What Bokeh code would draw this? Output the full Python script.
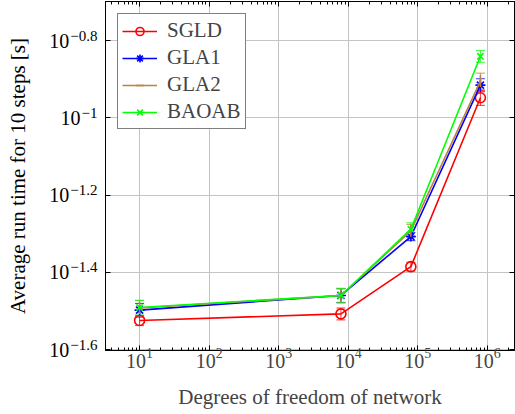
import numpy as np
from bokeh.plotting import figure
from bokeh.layouts import row
from bokeh.models import (Range1d, LogAxis, FixedTicker, LogTicker, Legend, LegendItem,
                          ColumnDataSource, Whisker, TeeHead, CustomJSTickFormatter)
from bokeh.core.properties import value
from bokeh.embed import file_html
from bokeh.resources import INLINE

# Degrees of freedom of each network and the measured run times [s]
dof = [10, 7850, 79510, 795010]
sgld = [0.0299, 0.0311, 0.0412, 0.1127]
sgld_err = [0.0009, 0.0011, 0.0011, 0.0050]
gla1 = [0.0318, 0.0347, 0.0493, 0.1215]
gla1_err = [0.0013, 0.0014, 0.0012, 0.0047]
gla2 = [0.0322, 0.0347, 0.0510, 0.1245]
gla2_err = [0.0015, 0.0015, 0.0020, 0.0060]
baoab = [0.0323, 0.0347, 0.0515, 0.1443]
baoab_err = [0.0014, 0.0015, 0.0020, 0.0050]

y_tick_exponents = ["\u22121.6", "\u22121.4", "\u22121.2", "\u22121", "\u22120.8"]
y_tick_values = [10 ** -1.6, 10 ** -1.4, 10 ** -1.2, 10 ** -1.0, 10 ** -0.8]
y_title = "Average run time for 10 steps [s]"
x_title = "Degrees of freedom of network"

FONT = "Liberation Serif"
W, H = 515, 414
TOP, BOTTOM = 1, 64
LEFT_W = 105

# x limits: data range in decades widened by 10% on each side
lo, hi = np.log10(min(dof)), np.log10(max(dof))
pad = 0.1 * (hi - lo)
x_range = Range1d(10 ** (lo - pad), 10 ** (hi + pad))
y_range = Range1d(0.025, 0.2)

p = figure(width=W - LEFT_W, height=H, x_axis_type="log", y_axis_type="log",
           x_range=x_range, y_range=y_range,
           output_backend="svg", toolbar_location=None,
           min_border_left=0, min_border_right=1, min_border_top=TOP, min_border_bottom=BOTTOM)
p.frame_align = False

p.outline_line_color = "black"
p.outline_line_width = 1
p.background_fill_color = "white"
p.border_fill_color = "white"

# grid
for g in (p.xgrid, p.ygrid):
    g.grid_line_color = "#c4c4c4"
    g.grid_line_width = 1
p.ygrid.ticker = FixedTicker(ticks=y_tick_values)

blank = CustomJSTickFormatter(code="return ''")

def style_axis(ax):
    ax.axis_line_color = "black"
    ax.major_tick_line_color = "black"
    ax.minor_tick_line_color = "black"
    ax.major_tick_in = 5
    ax.major_tick_out = 0
    ax.minor_tick_in = 3
    ax.minor_tick_out = 0

def mute_labels(ax):
    ax.formatter = blank
    ax.major_label_text_font_size = "0px"
    ax.major_label_standoff = 0

# bottom axis
xa = p.xaxis[0]
style_axis(xa)
xa.ticker = LogTicker(num_minor_ticks=10)
xa.major_label_text_font = FONT
xa.major_label_text_font_size = "20px"
xa.major_label_standoff = -3
xa.axis_label = x_title
xa.axis_label_text_font = FONT
xa.axis_label_text_font_size = "21px"
xa.axis_label_text_font_style = "normal"
xa.axis_label_standoff = 14

# left axis: ticks only, its labels sit in the side panel
ya = p.yaxis[0]
style_axis(ya)
ya.ticker = FixedTicker(ticks=y_tick_values, minor_ticks=[])
mute_labels(ya)

# mirrored axes on top and right
top = LogAxis(ticker=LogTicker(num_minor_ticks=10))
style_axis(top)
mute_labels(top)
p.add_layout(top, "above")

right = LogAxis(ticker=FixedTicker(ticks=y_tick_values, minor_ticks=[]))
style_axis(right)
mute_labels(right)
p.add_layout(right, "right")

series = [
    ("SGLD", sgld, sgld_err, "#ff0000", "circle", 10, 0),
    ("GLA1", gla1, gla1_err, "#0000ff", "asterisk", 10, 0),
    ("GLA2", gla2, gla2_err, "#bf8040", "dash", 12, np.pi / 2),
    ("BAOAB", baoab, baoab_err, "#00ff00", "x", 9, 0),
]

items = []
for name, vals, errs, color, marker, size, angle in series:
    v = np.array(vals)
    e = np.array(errs)
    src = ColumnDataSource(dict(x=dof, y=vals, upper=v + e, lower=v - e))
    wh = Whisker(base="x", upper="upper", lower="lower", source=src,
                 line_color=color, line_width=1, line_alpha=0.8,
                 upper_head=TeeHead(size=9, line_color=color, line_width=1, line_alpha=0.8),
                 lower_head=TeeHead(size=9, line_color=color, line_width=1, line_alpha=0.8))
    p.add_layout(wh)
    ln = p.line("x", "y", source=src, line_color=color, line_width=1.6)
    sc = p.scatter("x", "y", source=src, marker=marker, size=size, angle=angle,
                   line_color=color, fill_color=None, line_width=1.6)
    items.append(LegendItem(label=name, renderers=[ln, sc]))

legend = Legend(items=items, location="top_left")
legend.margin = 12
legend.padding = 4
legend.spacing = 2
legend.glyph_width = 35
legend.glyph_height = 20
legend.label_height = 22
legend.label_standoff = 10
legend.label_text_font = FONT
legend.label_text_font_size = "21px"
legend.border_line_color = "black"
legend.border_line_width = 1
legend.background_fill_alpha = 1
p.add_layout(legend)

# side panel: its frame fills the whole column, so its log range is the main range
# stretched by the main plot's top and bottom borders (same pixels per decade)
log_lo, log_hi = np.log10(y_range.start), np.log10(y_range.end)
px_per_decade = (H - TOP - BOTTOM) / (log_hi - log_lo)
side_range = Range1d(10 ** (log_lo - BOTTOM / px_per_decade), 10 ** (log_hi + TOP / px_per_decade))

side = figure(width=LEFT_W, height=H, y_axis_type="log", y_range=side_range,
              x_range=Range1d(0, LEFT_W), x_axis_location=None, y_axis_location=None,
              output_backend="svg", toolbar_location=None,
              min_border_left=0, min_border_right=0, min_border_top=0, min_border_bottom=0)
side.frame_align = False
side.outline_line_color = None
side.grid.visible = False
side.background_fill_color = "white"
side.border_fill_color = "white"

# y tick labels: 10 with a raised exponent, right-aligned next to the axis
char_w = {"\u2212": 0.564, ".": 0.25}
exp_size = 15
label_right = LEFT_W - 8
base_x = [label_right - 1 - sum(char_w.get(c, 0.5) for c in e) * exp_size for e in y_tick_exponents]
side.text(x=[label_right] * len(y_tick_values), y=y_tick_values, text=y_tick_exponents,
          text_align="right", text_baseline="bottom", text_font=value(FONT),
          text_font_size=f"{exp_size}px", text_color="black")
side.text(x=base_x, y=y_tick_values, text=["10"] * len(y_tick_values),
          text_align="right", text_baseline="middle", text_font=value(FONT),
          text_font_size="20px", text_color="black")
y_mid = 10 ** ((log_lo + log_hi) / 2)
side.text(x=[17], y=[y_mid], text=[y_title], angle=np.pi / 2,
          text_align="center", text_baseline="middle", text_font=value(FONT),
          text_font_size="21px", text_color="black")

layout = row(side, p)
open("out.html", "w").write(file_html(layout, INLINE))
